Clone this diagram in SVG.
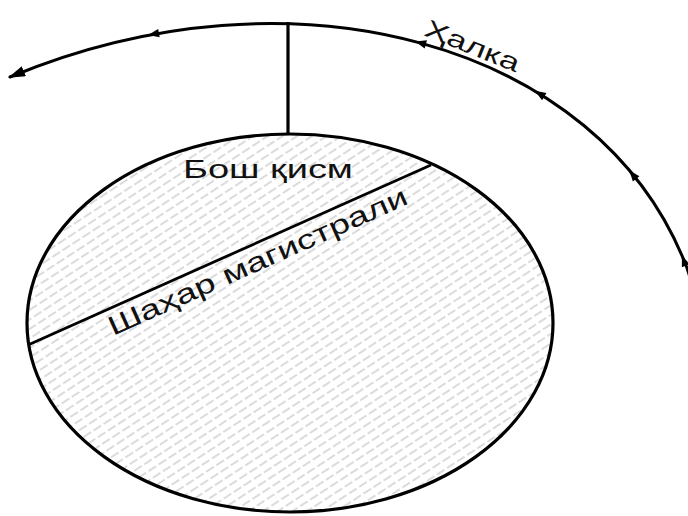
<svg xmlns="http://www.w3.org/2000/svg" xmlns:xlink="http://www.w3.org/1999/xlink" width="688" height="516" viewBox="0 0 688 516">
  <style>
    .stroke { fill: none; stroke: #000; stroke-linecap: round; }
    .lbl { font-family: "Liberation Sans", Arial, "DejaVu Sans", sans-serif; fill: #111; }
    .ah { fill: #000; }
  </style>
  <defs>
    <pattern id="hatch" patternUnits="userSpaceOnUse" width="12" height="8" patternTransform="rotate(-33)">
      <line x1="0" y1="4" x2="12" y2="4" stroke="#bdbdbd" stroke-width="1.1" stroke-dasharray="9 3"/>
    </pattern>
    <path id="ahMid" d="M6,0 L-5,-4.2 L-5,4.2 Z"/>
    <marker id="ahEnd" viewBox="0 0 17 11" refX="15" refY="5.5" markerWidth="17" markerHeight="11" markerUnits="userSpaceOnUse" orient="auto-start-reverse">
      <path d="M0,0 L17,5.5 L0,11 Z" fill="#000"/>
    </marker>
  </defs>
  <rect width="688" height="516" fill="#fff"/>

  <g id="city">
    <ellipse cx="290" cy="323" rx="263" ry="189" fill="url(#hatch)" stroke="#000" stroke-width="3.2"/>
    <line x1="28" y1="345" x2="431" y2="165" stroke="#000" stroke-width="2.8"/>
    <text class="lbl" x="183" y="178" font-size="26" textLength="170" lengthAdjust="spacingAndGlyphs">Бош қисм</text>
    <text class="lbl" transform="translate(113,336) rotate(-24.1)" x="0" y="0" font-size="27" textLength="325" lengthAdjust="spacingAndGlyphs">Шаҳар магистрали</text>
  </g>

  <g id="ring">
    <path class="stroke" stroke-width="3" d="M10,77 C290,-40 600,40 687,268 L694,290" marker-start="url(#ahEnd)"/>
    <use href="#ahMid" class="ah" transform="translate(154,34) rotate(169.7)"/>
    <use href="#ahMid" class="ah" transform="translate(421,43) rotate(195.4)"/>
    <use href="#ahMid" class="ah" transform="translate(540,94) rotate(211.7)"/>
    <use href="#ahMid" class="ah" transform="translate(633,175) rotate(230.9)"/>
    <use href="#ahMid" class="ah" transform="translate(684,261) rotate(249)"/>
    <text class="lbl" transform="translate(423,35) rotate(22)" x="0" y="0" font-size="25" textLength="100" lengthAdjust="spacingAndGlyphs">Ҳалка</text>
  </g>

  <g id="connectors">
    <line x1="288" y1="22" x2="288" y2="134" stroke="#000" stroke-width="3.2"/>
  </g>
</svg>
